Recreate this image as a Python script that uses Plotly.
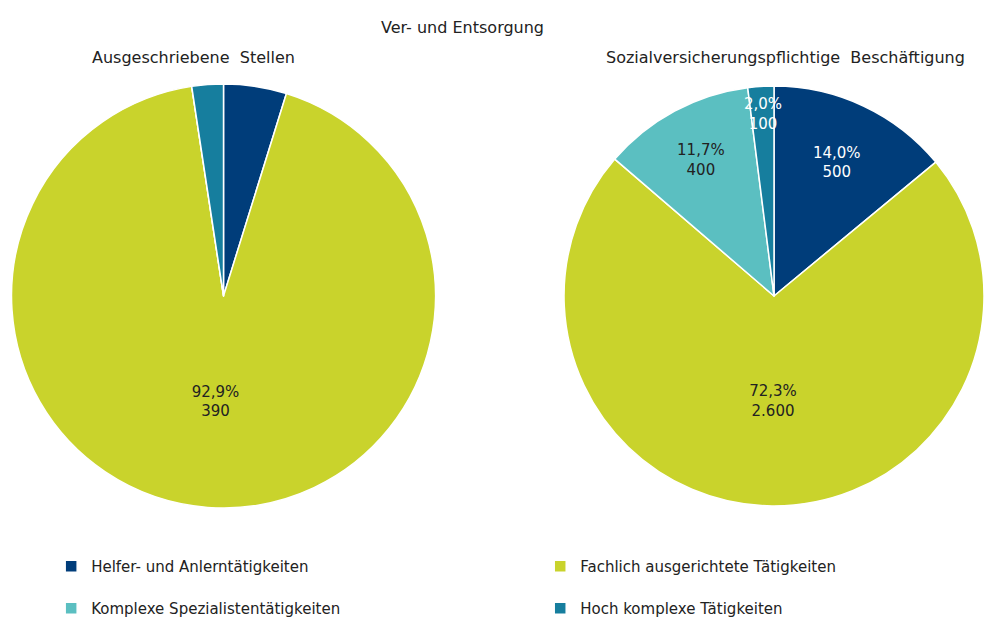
import math
import plotly.graph_objects as go

categories = ["Helfer- und Anlerntätigkeiten", "Fachlich ausgerichtete Tätigkeiten",
              "Komplexe Spezialistentätigkeiten", "Hoch komplexe Tätigkeiten"]
colors = ["#003d7a", "#c9d32c", "#5bbfc1", "#167e9e"]

# Ausgeschriebene Stellen (shares in %, counts)
stellen_share = [4.8, 92.9, 0.0, 2.4]
stellen_count = ["", "390", "", ""]
stellen_pct = ["", "92,9%", "", ""]

# Sozialversicherungspflichtige Beschäftigung
besch_share = [14.0, 72.3, 11.7, 2.0]
besch_count = ["500", "2.600", "400", "100"]
besch_pct = ["14,0%", "72,3%", "11,7%", "2,0%"]

FONT = "'DejaVu Sans', 'Open Sans', sans-serif"
W, H = 984, 617
DOM_L = dict(x=[0.0112, 0.4431], y=[0.1767, 0.8639])
DOM_R = dict(x=[0.5732, 1.0], y=[0.1767, 0.8639])
label_colors = ["white", "#222", "#222", "white"]
SMALL = 5.0  # shares below this are labelled via annotation near the rim


def texts(pcts, counts, shares):
    return [f"{p}<br>{c}" if (p and s >= SMALL) else "" for p, c, s in zip(pcts, counts, shares)]


def small_labels(shares, pcts, counts, dom):
    """Place labels of very thin slices near the rim, computed from the data."""
    x0, x1 = dom["x"][0] * W, dom["x"][1] * W
    y0, y1 = (1 - dom["y"][1]) * H, (1 - dom["y"][0]) * H
    cx, cy = (x0 + x1) / 2, (y0 + y1) / 2
    r = min(x1 - x0, y1 - y0) / 2
    total = sum(shares)
    out, cum = [], 0.0
    for i, (s, p, c) in enumerate(zip(shares, pcts, counts)):
        mid = (cum + s / 2) / total * 2 * math.pi
        cum += s
        if p and 0 < s < SMALL:
            px = cx + 0.87 * r * math.sin(mid)
            py = cy - 0.87 * r * math.cos(mid)
            out.append(dict(text=f"{p}<br>{c}", x=px / W, y=1 - py / H, xref="paper", yref="paper",
                            xanchor="center", yanchor="middle", showarrow=False,
                            font=dict(size=15, color=label_colors[i])))
    return out


legend_labels = [c + "<br> " for c in categories]

fig = go.Figure()
fig.add_trace(go.Pie(
    labels=legend_labels, values=stellen_share, sort=False, direction="clockwise", rotation=0,
    marker=dict(colors=colors, line=dict(color="white", width=1.5)),
    text=texts(stellen_pct, stellen_count, stellen_share), textinfo="text", textposition="inside",
    insidetextorientation="horizontal",
    textfont=dict(family=FONT, size=15, color=label_colors),
    domain=DOM_L, showlegend=False, hovertext=categories, hoverinfo="text+value",
))
fig.add_trace(go.Pie(
    labels=legend_labels, values=besch_share, sort=False, direction="clockwise", rotation=0,
    marker=dict(colors=colors, line=dict(color="white", width=1.5)),
    text=texts(besch_pct, besch_count, besch_share), textinfo="text", textposition="inside",
    insidetextorientation="horizontal",
    textfont=dict(family=FONT, size=15, color=label_colors),
    domain=DOM_R, showlegend=True, hovertext=categories, hoverinfo="text+value",
))

annotations = [
    dict(text="Ver- und Entsorgung", x=462 / W, y=1 - 28 / H, xref="paper", yref="paper",
         xanchor="center", yanchor="middle", showarrow=False, font=dict(size=16)),
    dict(text="Ausgeschriebene  Stellen", x=193 / W, y=1 - 58 / H, xref="paper", yref="paper",
         xanchor="center", yanchor="middle", showarrow=False, font=dict(size=16)),
    dict(text="Sozialversicherungspflichtige  Beschäftigung", x=785 / W, y=1 - 58 / H,
         xref="paper", yref="paper", xanchor="center", yanchor="middle", showarrow=False,
         font=dict(size=16)),
]
annotations += small_labels(besch_share, besch_pct, besch_count, DOM_R)
annotations += small_labels(stellen_share, stellen_pct, stellen_count, DOM_L)

fig.update_layout(
    width=W, height=H,
    margin=dict(l=0, r=0, t=0, b=0, autoexpand=False),
    paper_bgcolor="white", plot_bgcolor="white",
    font=dict(family=FONT, size=15, color="#222"),
    legend=dict(orientation="h", x=0.052, xanchor="left", y=1 - 550 / H, yanchor="top",
                entrywidth=0.497, entrywidthmode="fraction", font=dict(size=15),
                traceorder="normal", valign="top"),
    annotations=annotations,
)

fig.write_html("out.html", config={"displayModeBar": False},
               post_script="document.body.style.margin='0';")
